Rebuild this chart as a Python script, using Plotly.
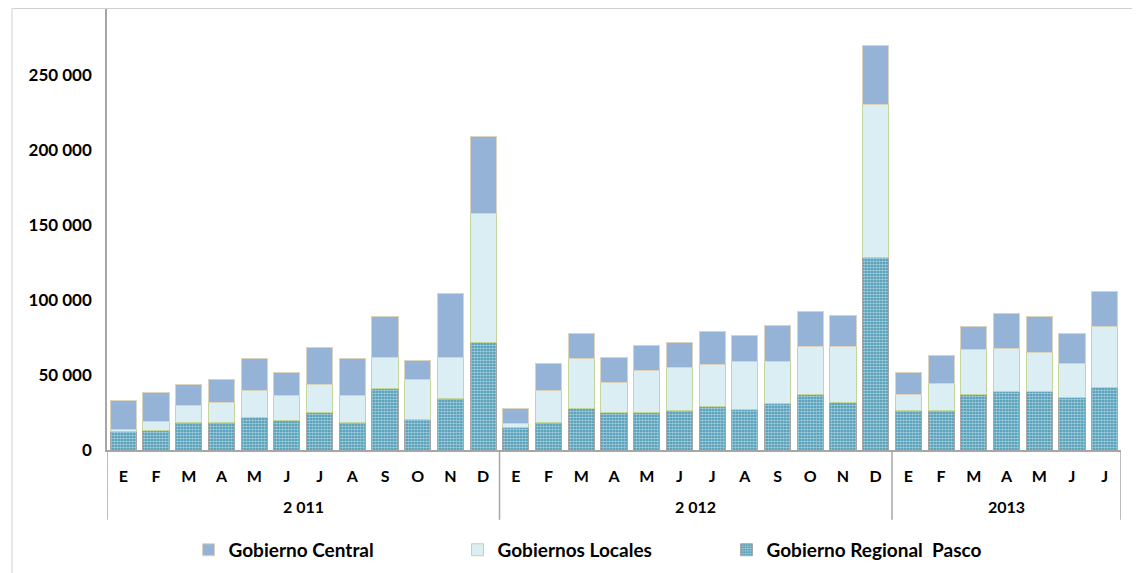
import plotly.graph_objects as go

months = ["E", "F", "M", "A", "M", "J", "J", "A", "S", "O", "N", "D",
          "E", "F", "M", "A", "M", "J", "J", "A", "S", "O", "N", "D",
          "E", "F", "M", "A", "M", "J", "J"]
years = ["2 011", "2 012", "2013"]
year_counts = [12, 12, 7]

regional_pasco = [12200, 12700, 18400, 18200, 21800, 19600, 25100, 18200, 40700, 20400, 34200, 71600,
                  15100, 18200, 27600, 25100, 25100, 26200, 28700, 27300, 30700, 37300, 31800, 128200,
                  26200, 26200, 37300, 38700, 38700, 35300, 42000]
gobiernos_locales = [1800, 6200, 11400, 13800, 18200, 16800, 18900, 18200, 21300, 26700, 27800, 86400,
                     2700, 21800, 33500, 20200, 28200, 29100, 28000, 31600, 28200, 31600, 37100, 102300,
                     11100, 18000, 29600, 29100, 26000, 22500, 40200]
gobierno_central = [18900, 19500, 14200, 14700, 20700, 15600, 24400, 24300, 26900, 12700, 42400, 50700,
                    9800, 17600, 16700, 16500, 16500, 16700, 22000, 17500, 24400, 23300, 21100, 39100,
                    14700, 19100, 15300, 23500, 24200, 20000, 23400]

x = list(range(len(months)))

fig = go.Figure()
fig.add_trace(go.Bar(
    x=x, y=regional_pasco, name="Gobierno Regional  Pasco",
    marker=dict(color="#3C92B0", line=dict(color="#A6A6A6", width=1),
                pattern=dict(shape=".", fgcolor="white", bgcolor="#3C92B0", size=3, solidity=0.62)),
))
fig.add_trace(go.Bar(
    x=x, y=gobiernos_locales, name="Gobiernos Locales",
    marker=dict(color="#DAEEF3", line=dict(color="#C3D69B", width=1)),
))
fig.add_trace(go.Bar(
    x=x, y=gobierno_central, name="Gobierno Central",
    marker=dict(color="#95B3D7", line=dict(color="#D9D3C0", width=1)),
))

shapes = []
pos = -0.5
bounds = [pos]
for c in year_counts:
    pos += c
    bounds.append(pos)
for b in bounds:
    shapes.append(dict(type="line", xref="x", yref="paper", x0=b, x1=b, y0=0, y1=-0.158,
                       line=dict(color="#A6A6A6", width=1.5)))
# outer frame (top and left)
shapes.append(dict(type="line", xref="paper", yref="paper", x0=-0.0937, x1=1.1, y0=1.0, y1=1.0,
                   line=dict(color="#D0D0D0", width=2)))
shapes.append(dict(type="line", xref="paper", yref="paper", x0=-0.0937, x1=-0.0937, y0=1.0, y1=-0.3,
                   line=dict(color="#E0E0E0", width=1.5)))

annotations = []
start = 0
for yl, c in zip(years, year_counts):
    annotations.append(dict(x=start + (c - 1) / 2, y=-0.127, xref="x", yref="paper",
                            text="<b>%s</b>" % yl, showarrow=False,
                            font=dict(family="Lato", size=16, color="#000000"),
                            xanchor="center", yanchor="middle"))
    start += c

fig.update_layout(
    barmode="stack",
    bargap=0.2,
    width=1132, height=565,
    margin=dict(l=99, r=19, t=0, b=123),
    paper_bgcolor="white", plot_bgcolor="white",
    separators=", ",
    showlegend=True,
    legend=dict(orientation="h", traceorder="reversed", x=0.0804, y=-0.226,
                xanchor="left", yanchor="middle",
                font=dict(family="Lato", size=19, color="#000000", weight="bold"),
                entrywidth=224, entrywidthmode="pixels"),
    shapes=shapes,
    annotations=annotations,
)
fig.update_xaxes(
    range=[-0.5, 30.5], tickmode="array", tickvals=x, ticktext=["<b>%s</b>" % m for m in months],
    showline=True, linecolor="#A6A6A6", linewidth=1.5, showgrid=False, zeroline=False,
    ticks="outside", ticklen=11, tickcolor="rgba(0,0,0,0)",
    tickfont=dict(family="Lato", size=16, color="#000000"),
    automargin=False,
)
fig.update_yaxes(
    range=[0, 294667], tickmode="array", tickvals=[0, 50000, 100000, 150000, 200000, 250000],
    ticktext=["<b>0</b>", "<b>50 000</b>", "<b>100 000</b>", "<b>150 000</b>", "<b>200 000</b>", "<b>250 000</b>"],
    showline=True, linecolor="#A6A6A6", linewidth=1.5, showgrid=False, zeroline=False,
    ticks="outside", ticklen=10, tickcolor="rgba(0,0,0,0)",
    tickfont=dict(family="Lato", size=17, color="#000000"),
    automargin=False,
)

fig.write_html("out.html")
